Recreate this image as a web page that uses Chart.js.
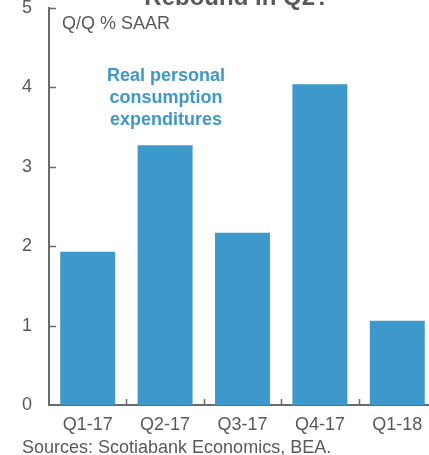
<!DOCTYPE html>
<html>
<head>
<meta charset="utf-8">
<script src="https://cdn.jsdelivr.net/npm/chart.js@4"></script>
<style>
  html, body { margin: 0; padding: 0; background: #fff; overflow: hidden; }
  #wrap { width: 450px; height: 455px; }
</style>
</head>
<body>
<div id="wrap"><canvas id="graficoPce" width="450" height="455"></canvas></div>
<script>
const categories = ["Q1-17", "Q2-17", "Q3-17", "Q4-17", "Q1-18"];
const pceValues = [1.93, 3.27, 2.17, 4.04, 1.06];
const yMin = 0, yMax = 5, yStep = 1;
const titleText = "Rebound in Q2?";
const unitText = "Q/Q % SAAR";
const seriesLabel = ["Real personal", "consumption", "expenditures"];
const sourceText = "Sources: Scotiabank Economics, BEA.";

const gris = "#595959";
const ejeGris = "#6b6b6b";
const azul = "#3d98cc";
const fuente = "'Liberation Sans', Arial, sans-serif";

const marcas = {
  id: "marcas",
  afterDatasetsDraw(chart) {
    const ctx = chart.ctx;
    const area = chart.chartArea;
    const x = chart.scales.x, y = chart.scales.y;
    ctx.save();
    ctx.strokeStyle = ejeGris;
    ctx.lineWidth = 1.5;
    for (let v = yMin + yStep; v <= yMax; v += yStep) {
      const py = Math.round(y.getPixelForValue(v)) + 0.5;
      ctx.beginPath();
      ctx.moveTo(area.left, py);
      ctx.lineTo(area.left + 7, py);
      ctx.stroke();
    }
    for (let i = 0; i < categories.length; i++) {
      const px = Math.round((x.getPixelForValue(i) + x.getPixelForValue(i + 1)) / 2) + 0.5;
      ctx.beginPath();
      ctx.moveTo(px, area.bottom);
      ctx.lineTo(px, area.bottom - 6);
      ctx.stroke();
    }

    ctx.fillStyle = gris;
    ctx.textAlign = "center";
    ctx.textBaseline = "alphabetic";
    ctx.font = "bold 24px " + fuente;
    ctx.fillText(titleText, 237, 5);

    ctx.textAlign = "left";
    ctx.textBaseline = "middle";
    ctx.font = "18px " + fuente;
    ctx.fillText(unitText, 62, 24);

    ctx.fillStyle = azul;
    ctx.textAlign = "center";
    ctx.font = "bold 18px " + fuente;
    seriesLabel.forEach((linea, i) => ctx.fillText(linea, 166, 76 + i * 22));

    ctx.fillStyle = gris;
    ctx.textAlign = "left";
    ctx.textBaseline = "alphabetic";
    ctx.font = "18px " + fuente;
    ctx.fillText(sourceText, 22, 453);
    ctx.restore();
  },
};

new Chart(document.getElementById("graficoPce"), {
  type: "bar",
  data: {
    labels: categories,
    datasets: [{
      label: "Real personal consumption expenditures",
      data: pceValues,
      backgroundColor: azul,
      borderWidth: 0,
      barPercentage: 0.71,
      categoryPercentage: 1,
    }],
  },
  options: {
    responsive: false,
    animation: false,
    layout: { padding: { left: 0, top: 8, right: 14, bottom: 0 } },
    plugins: {
      legend: { display: false },
      title: { display: false },
      tooltip: { enabled: false },
    },
    scales: {
      x: {
        grid: { display: false, drawTicks: false },
        border: { display: true, color: ejeGris, width: 2 },
        ticks: { color: gris, font: { family: fuente, size: 18 }, padding: 9, maxRotation: 0 },
        afterFit: (s) => { s.height = 50; s.paddingLeft = 0; s.paddingRight = 0; },
      },
      y: {
        min: yMin,
        max: yMax,
        grid: { display: false, drawTicks: false },
        border: { display: true, color: ejeGris, width: 2 },
        ticks: { stepSize: yStep, color: gris, font: { family: fuente, size: 18 }, padding: 17 },
        afterFit: (s) => { s.width = 49; s.paddingTop = 0; s.paddingBottom = 0; },
      },
    },
  },
  plugins: [marcas],
});
</script>
</body>
</html>
